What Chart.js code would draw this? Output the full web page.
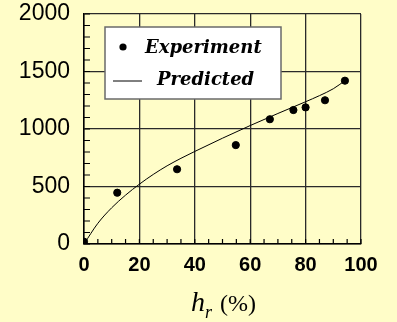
<!DOCTYPE html>
<html>
<head>
<meta charset="utf-8">
<script src="https://cdn.jsdelivr.net/npm/chart.js@4.4.1/dist/chart.umd.min.js"></script>
<style>
  html, body { margin: 0; padding: 0; background: #fffdc8; }
  canvas { display: block; }
</style>
</head>
<body>
<canvas id="chart" width="397" height="322"></canvas>
<script>
// Experiment points (h_r in %, value)
const expX = [0, 12, 33.6, 54.8, 67.1, 75.6, 80, 87, 94.2];
const expY = [20, 446, 650, 860, 1085, 1165, 1188, 1250, 1420];

// Predicted curve
const predX = [0, 5, 10, 15, 20, 25, 30, 35, 40, 50, 60, 70, 80, 85, 90, 94.2];
const predY = [0, 180, 315, 425, 520, 605, 680, 745, 805, 920, 1030, 1135, 1237, 1290, 1350, 1420];

const legendLabels = ["Experiment", "Predicted"];
const bgColor = "#fffdc8";
const gridColor = "#2a2a2a";

// minor ticks drawn inward on the left and bottom axes
const minorTicks = {
  id: "minorTicks",
  afterDraw(chart) {
    const ctx = chart.ctx;
    const { left, bottom } = chart.chartArea;
    const xs = chart.scales.x;
    const ys = chart.scales.y;
    ctx.save();
    ctx.strokeStyle = "#000";
    ctx.lineWidth = 1.2;
    ctx.beginPath();
    for (let v = 0; v <= 2000; v += 100) {
      const y = ys.getPixelForValue(v);
      ctx.moveTo(left, y);
      ctx.lineTo(left + 6, y);
    }
    for (let v = 0; v <= 100; v += 5) {
      const x = xs.getPixelForValue(v);
      ctx.moveTo(x, bottom);
      ctx.lineTo(x, bottom - 5);
    }
    ctx.stroke();
    ctx.restore();
  },
};

// legend box inside the plot
const boxLegend = {
  id: "boxLegend",
  afterDraw(chart) {
    const ctx = chart.ctx;
    const { left, top } = chart.chartArea;
    const bx = left + 21, by = top + 13, bw = 176, bh = 72;
    ctx.save();
    ctx.fillStyle = "#ffffff";
    ctx.fillRect(bx, by, bw, bh);
    ctx.strokeStyle = "#6a6a6a";
    ctx.lineWidth = 1.5;
    ctx.strokeRect(bx, by, bw, bh);

    ctx.fillStyle = "#000";
    ctx.beginPath();
    ctx.arc(bx + 18, by + 20, 3.6, 0, Math.PI * 2);
    ctx.fill();

    ctx.strokeStyle = "#000";
    ctx.lineWidth = 1;
    ctx.beginPath();
    ctx.moveTo(bx + 8, by + 54);
    ctx.lineTo(bx + 37, by + 54);
    ctx.stroke();

    ctx.font = "italic bold 18px DejaVu Serif";
    ctx.textBaseline = "alphabetic";
    ctx.textAlign = "left";
    ctx.fillText(legendLabels[0], bx + 40, by + 26);
    ctx.fillText(legendLabels[1], bx + 52, by + 58);
    ctx.restore();
  },
};

// x-axis title with subscript
const axisTitle = {
  id: "axisTitle",
  afterDraw(chart) {
    const ctx = chart.ctx;
    const { left, right } = chart.chartArea;
    const hFont = "italic 28px Liberation Serif";
    const rFont = "italic 18px Liberation Serif";
    const pFont = "24px Liberation Serif";
    ctx.save();
    ctx.fillStyle = "#000";
    ctx.textBaseline = "alphabetic";
    ctx.font = hFont; const wh = ctx.measureText("h").width;
    ctx.font = rFont; const wr = ctx.measureText("r").width;
    ctx.font = pFont; const wp = ctx.measureText(" (%)").width;
    let x = (left + right) / 2 - (wh + wr + wp) / 2;
    ctx.font = hFont; ctx.fillText("h", x, 311); x += wh;
    ctx.font = rFont; ctx.fillText("r", x, 318); x += wr + 2;
    ctx.font = pFont; ctx.fillText(" (%)", x, 311);
    ctx.restore();
  },
};

new Chart(document.getElementById("chart"), {
  type: "scatter",
  data: {
    datasets: [
      {
        label: legendLabels[0],
        data: expX.map((x, i) => ({ x, y: expY[i] })),
        backgroundColor: "#000",
        borderColor: "#000",
        pointRadius: 3.6,
        order: 1,
      },
      {
        type: "line",
        label: legendLabels[1],
        data: predX.map((x, i) => ({ x, y: predY[i] })),
        borderColor: "#000",
        borderWidth: 1,
        pointRadius: 0,
        fill: false,
        cubicInterpolationMode: "monotone",
        order: 2,
      },
    ],
  },
  options: {
    responsive: false,
    animation: false,
    layout: { padding: { top: 0, right: 36, bottom: 0, left: 0 } },
    plugins: {
      legend: { display: false },
      tooltip: { enabled: false },
    },
    scales: {
      x: {
        type: "linear",
        min: 0,
        max: 100,
        afterFit: (s) => { s.height = 78; },
        ticks: {
          stepSize: 20,
          color: "#000",
          padding: 9,
          callback: (v) => String(v),
          font: { family: "Liberation Sans, Arial, sans-serif", size: 20, weight: "bold" },
        },
        grid: { color: gridColor, lineWidth: 1.3, drawTicks: false },
        border: { color: "#000", width: 1.5 },
      },
      y: {
        type: "linear",
        min: 0,
        max: 2000,
        afterFit: (s) => {
          s.width = 84;
          s.paddingTop = 14; // keep the top of the plot at 14px
          s.paddingBottom = 0;
        },
        ticks: {
          stepSize: 500,
          color: "#000",
          padding: 14,
          callback: (v) => String(v),
          font: { family: "Liberation Sans, Arial, sans-serif", size: 23 },
        },
        grid: { color: gridColor, lineWidth: 1.3, drawTicks: false },
        border: { color: "#000", width: 1.5 },
      },
    },
  },
  plugins: [
    {
      id: "bg",
      beforeDraw(chart) {
        const ctx = chart.ctx;
        ctx.save();
        ctx.fillStyle = bgColor;
        ctx.fillRect(0, 0, chart.width, chart.height);
        ctx.restore();
      },
    },
    minorTicks,
    boxLegend,
    axisTitle,
  ],
});
</script>
</body>
</html>
